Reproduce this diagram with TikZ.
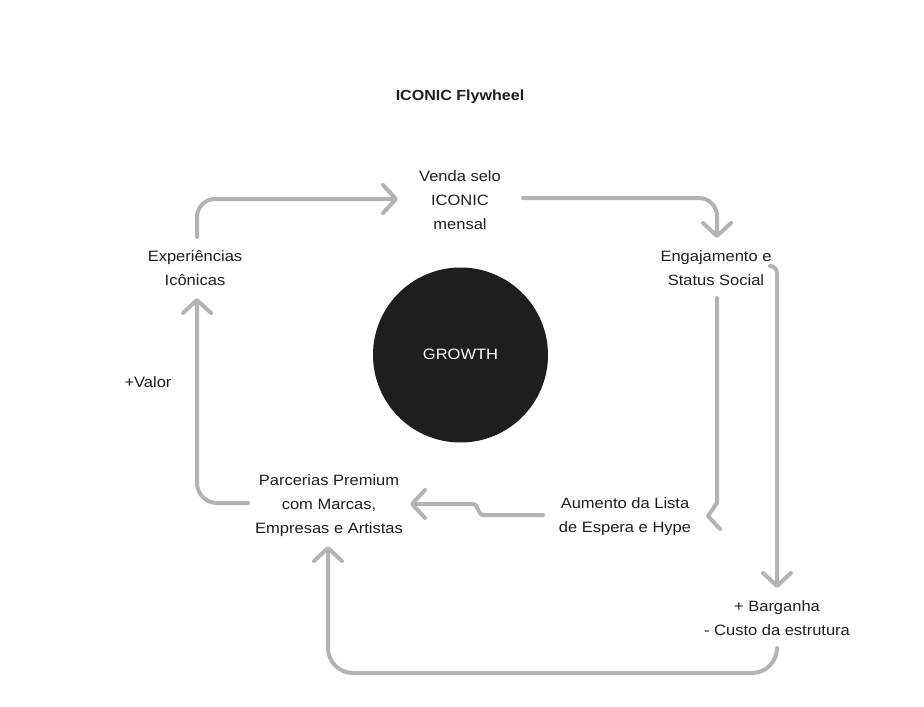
\documentclass[tikz,border=0pt]{standalone}
\usepackage{fontspec}
\setmainfont{Liberation Sans}[FakeStretch=1.1]
\usetikzlibrary{arrows.meta}
\definecolor{ink}{HTML}{1E1E1E}
\definecolor{flowgray}{HTML}{B3B3B3}
\begin{document}
\begin{tikzpicture}[x=1pt,y=-1pt,
  lbl/.style={align=center, font=\fontsize{15}{24}\selectfont, text=ink, inner sep=0pt},
  flow/.style={draw=flowgray, line width=4pt, line cap=round, line join=round,
    -{Straight Barb[length=13pt,width=28pt,round]}},
  plainflow/.style={draw=flowgray, line width=4pt, line cap=round, line join=round}]
\useasboundingbox (0,0) rectangle (924,707);
\fill[white] (0,0) rectangle (924,707);
% title
\node[font=\bfseries\fontsize{14.6}{24}\selectfont, text=ink, inner sep=0pt] (title) at (460,96) {\strut ICONIC Flywheel};
% core
\node[circle, fill=ink, minimum size=175pt, inner sep=0pt] (core) at (460.5,355) {};
\node[lbl, text=white] (growth) at (core.center) {\strut GROWTH};
% labels
\node[lbl] (venda) at (460,201) {\strut Venda selo\\\strut ICONIC\\\strut mensal};
\node[lbl] (exp) at (195,269) {\strut Experiências\\\strut Icônicas};
\node[lbl] (eng) at (716,269) {\strut Engajamento e\\\strut Status Social};
\node[lbl] (parc) at (329,505) {\strut Parcerias Premium\\\strut com Marcas,\\\strut Empresas e Artistas};
\node[lbl] (aum) at (625,516) {\strut Aumento da Lista\\\strut de Espera e Hype};
\node[lbl] (barg) at (777,619) {\strut + Barganha\\\strut - Custo da estrutura};
\node[lbl] (valor) at (148,383) {\strut +Valor};
% connector end points
\coordinate (a1s) at (197,237);
\coordinate (a1e) at (398,199);
\coordinate (a2s) at (523,198);
\coordinate (a2e) at (717,238);
\coordinate (a3s) at (717,298);
\coordinate (a3b) at (717,503);
\coordinate (a3t) at (708,516);
\coordinate (a3w) at (720,529);
\coordinate (a4s) at (770,266);
\coordinate (a4e) at (777,588);
\coordinate (a5s) at (777,648);
\coordinate (a5c) at (328,673);
\coordinate (a5e) at (328,546);
\coordinate (a6s) at (543,515);
\coordinate (a6e) at (410,504);
\coordinate (a7s) at (248,503);
\coordinate (a7e) at (197,298);
% connectors
\draw[flow, rounded corners=18pt] (a1s) |- (a1e);
\draw[flow, rounded corners=18pt] (a2s) -| (a2e);
\draw[plainflow] (a3s) -- (a3b) -- (a3t) -- (a3w);
\draw[flow, rounded corners=7pt] (a4s) -| (a4e);
\draw[flow, rounded corners=25pt] (a5s) |- (a5c) -- (a5e);
\draw[flow] (a6s) -- (484,515) .. controls (476,515) and (480,504) .. (472,504) -- (a6e);
\draw[flow, rounded corners=20pt] (a7s) -| (a7e);
\end{tikzpicture}
\end{document}
